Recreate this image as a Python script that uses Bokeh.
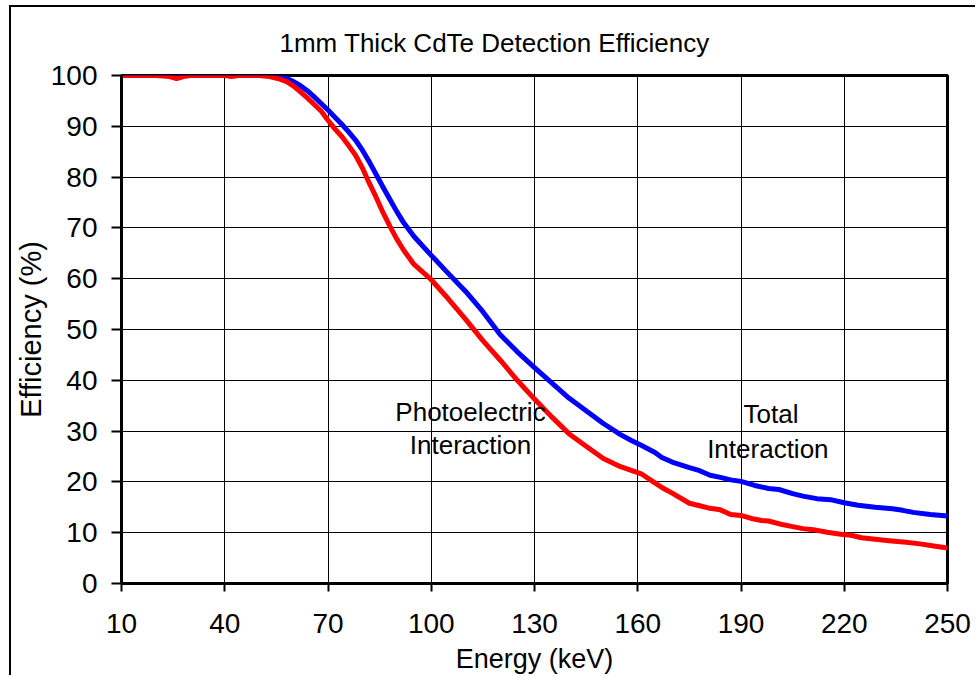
from bokeh.plotting import figure
from bokeh.models import Range1d, FixedTicker, Label, Title
from bokeh.embed import file_html
from bokeh.resources import INLINE

# ---- data ----
energy_total = [10, 20, 30, 40, 43, 46, 50, 55, 57, 60, 62, 64, 66, 68, 70, 72, 74, 76, 78, 80,
                82, 84, 86, 88, 90, 92, 95, 100, 105, 110, 115, 120, 125, 130, 135, 140, 145, 150,
                155, 158, 161, 165, 167, 170, 175, 178, 181, 184, 187, 190, 194, 198, 201, 205,
                208, 212, 216, 220, 224, 229, 234, 237, 240, 245, 250]
eff_total = [100, 100, 100, 100, 100.3, 100, 100, 100, 99.7, 98.8, 98.0, 97.0, 95.8, 94.5, 93.2,
             91.8, 90.4, 88.9, 87.3, 85.3, 83.0, 80.5, 78.0, 75.6, 73.2, 71.0, 68.3, 64.6, 61.0,
             57.5, 53.5, 49.0, 45.6, 42.5, 39.5, 36.5, 34.0, 31.5, 29.3, 28.2, 27.2, 25.8, 24.8,
             23.9, 22.8, 22.2, 21.3, 20.9, 20.4, 20.1, 19.3, 18.7, 18.5, 17.7, 17.2, 16.7, 16.5,
             15.9, 15.4, 15.0, 14.7, 14.4, 14.0, 13.6, 13.3]

energy_photo = [10, 20, 24, 26, 28, 30, 40, 42, 44, 50, 53, 56, 58, 60, 62, 64, 66, 68, 70, 72,
                74, 76, 78, 80, 82, 84, 86, 88, 90, 92, 95, 100, 105, 110, 115, 120, 125, 130,
                135, 140, 145, 150, 155, 161, 165, 167, 170, 175, 178, 181, 184, 187, 190, 193,
                196, 198, 202, 205, 208, 211, 215, 219, 222, 225, 229, 233, 238, 242, 246, 250]
eff_photo = [100, 100, 99.8, 99.4, 99.8, 100, 100, 99.8, 100, 100, 99.8, 99.3, 98.8, 97.9, 96.8,
             95.6, 94.3, 93.0, 91.2, 89.5, 88.0, 86.2, 84.3, 81.8, 78.8, 76.0, 73.0, 70.3, 67.8,
             65.6, 62.8, 59.8, 56.0, 52.0, 47.8, 44.0, 40.0, 36.3, 32.8, 29.5, 27.0, 24.6, 23.0,
             21.6, 19.8, 18.9, 17.8, 15.8, 15.3, 14.8, 14.5, 13.6, 13.4, 12.8, 12.4, 12.3, 11.6,
             11.2, 10.8, 10.6, 10.1, 9.7, 9.5, 9.0, 8.7, 8.4, 8.1, 7.8, 7.4, 7.0]

x_ticks = [10, 40, 70, 100, 130, 160, 190, 220, 250]
y_ticks = [0, 10, 20, 30, 40, 50, 60, 70, 80, 90, 100]

title_text = "1mm Thick CdTe Detection Efficiency"
x_label = "Energy (keV)"
y_label = "Efficiency (%)"
photo_label = ["Photoelectric", "Interaction"]
total_label = ["Total", "Interaction"]

FONT = "Liberation Sans"

p = figure(width=966, height=670,
           x_range=Range1d(10, 250), y_range=Range1d(0, 100),
           output_backend="svg", toolbar_location=None, title=None,
           min_border_left=110, min_border_right=30,
           min_border_top=68, min_border_bottom=94)

# outer chart border (left and top edges visible in the reference)
p.styles = {"margin-left": "9px", "margin-top": "5px",
            "border-left": "2px solid black", "border-top": "2px solid black"}

p.background_fill_color = "white"
p.border_fill_color = "white"
p.outline_line_color = "black"
p.outline_line_width = 3

# title
p.add_layout(Title(text=title_text, align="left", offset=158, text_font=FONT,
                   text_font_size="26px", text_font_style="normal", text_color="black",
                   standoff=36), "above")

# grid
p.xgrid.ticker = FixedTicker(ticks=x_ticks)
p.ygrid.ticker = FixedTicker(ticks=y_ticks)
for g in (p.xgrid, p.ygrid):
    g.grid_line_color = "black"
    g.grid_line_width = 1
    g.grid_line_alpha = 1.0

# axes
p.xaxis.ticker = FixedTicker(ticks=x_ticks)
p.yaxis.ticker = FixedTicker(ticks=y_ticks)
for ax in (p.xaxis, p.yaxis):
    ax.axis_line_color = "black"
    ax.axis_line_width = 3
    ax.major_tick_line_color = "black"
    ax.major_tick_line_width = 2
    ax.major_tick_in = 0
    ax.minor_tick_line_color = None
    ax.major_label_text_font = FONT
    ax.major_label_text_font_size = "28px"
    ax.major_label_text_color = "black"
    ax.axis_label_text_font = FONT
    ax.axis_label_text_font_style = "normal"
    ax.axis_label_text_color = "black"

p.xaxis.major_tick_out = 8
p.xaxis.major_label_standoff = 22
p.xaxis.axis_label = x_label
p.xaxis.axis_label_text_font_size = "27px"
p.xaxis.axis_label_standoff = 8

p.yaxis.major_tick_out = 10
p.yaxis.major_label_standoff = 14
p.yaxis.axis_label = y_label
p.yaxis.axis_label_text_font_size = "29px"
p.yaxis.axis_label_standoff = 1

# curves
p.line(energy_total, eff_total, line_color="#0000FF", line_width=5, line_join="round")
p.line(energy_photo, eff_photo, line_color="#FF0000", line_width=5, line_join="round")

# in-plot annotations
def add_label(text, x, y, size):
    p.add_layout(Label(x=x, y=y, text=text, text_font=FONT, text_font_size=size,
                       text_align="center", text_baseline="alphabetic", text_color="black"))

add_label(photo_label[0], 111.4, 33.7, "26px")
add_label(photo_label[1], 111.4, 27.2, "26px")
add_label(total_label[0], 198.7, 33.3, "26px")
add_label(total_label[1], 197.8, 26.4, "26px")

open("out.html", "w").write(file_html(p, INLINE))
